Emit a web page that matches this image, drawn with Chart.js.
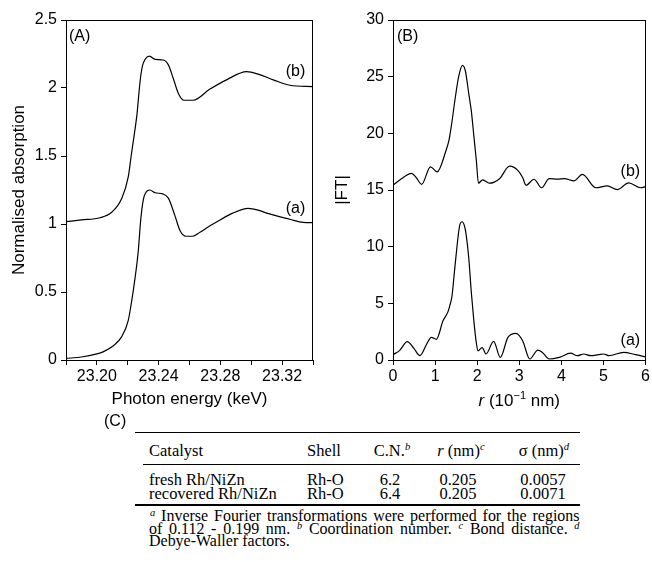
<!DOCTYPE html>
<html><head><meta charset="utf-8">
<script src="https://cdn.jsdelivr.net/npm/chart.js@4.4.1/dist/chart.umd.min.js"></script>
<style>
html,body{margin:0;padding:0;background:#fff;}
#wrap{position:relative;width:652px;height:562px;overflow:hidden;background:#fff;}
#ca{position:absolute;left:0;top:0;}
#cb{position:absolute;left:325px;top:0;}
.t{position:absolute;font-family:"Liberation Serif","Times New Roman",serif;font-size:17px;line-height:16px;white-space:nowrap;color:#000;transform:scaleX(0.97);transform-origin:left center;}
.c{text-align:center;transform-origin:center center;}
.rule{position:absolute;background:#000;}
.sup{font-style:italic;font-size:11px;position:relative;top:-6px;}
.fn{transform:scaleX(0.94);transform-origin:left center;}
.j{text-align:justify;text-align-last:justify;}
#lblC{position:absolute;left:104px;top:413px;font-family:"Liberation Sans",Arial,sans-serif;font-size:16px;line-height:16px;}
</style></head>
<body>
<div id="wrap">
<canvas id="ca" width="325" height="420" style="width:325px;height:420px"></canvas>
<canvas id="cb" width="327" height="420" style="width:327px;height:420px"></canvas>

<div id="lblC">(C)</div>
<div class="rule" style="left:135px;top:432px;width:445px;height:1.3px"></div>
<div class="t" style="left:149px;top:443px">Catalyst</div>
<div class="t" style="left:307px;top:443px">Shell</div>
<div class="t c" style="left:352px;top:443px;width:80px">C.N.<span class="sup">b</span></div>
<div class="t c" style="left:421px;top:443px;width:80px"><i>r</i> (nm)<span class="sup">c</span></div>
<div class="t c" style="left:504px;top:443px;width:80px">σ (nm)<span class="sup">d</span></div>
<div class="rule" style="left:143px;top:463.5px;width:437px;height:1.2px"></div>

<div class="t" style="left:149px;top:471.5px" id="r1c0"></div>
<div class="t" style="left:307px;top:471.5px" id="r1c1"></div>
<div class="t c" style="left:350px;top:471.5px;width:80px" id="r1c2"></div>
<div class="t c" style="left:418px;top:471.5px;width:80px" id="r1c3"></div>
<div class="t c" style="left:503px;top:471.5px;width:80px" id="r1c4"></div>

<div class="t" style="left:149px;top:486px" id="r2c0"></div>
<div class="t" style="left:307px;top:486px" id="r2c1"></div>
<div class="t c" style="left:350px;top:486px;width:80px" id="r2c2"></div>
<div class="t c" style="left:418px;top:486px;width:80px" id="r2c3"></div>
<div class="t c" style="left:503px;top:486px;width:80px" id="r2c4"></div>

<div class="rule" style="left:135px;top:504px;width:445px;height:1.8px"></div>
<div class="t fn j" style="left:150px;top:509px;width:457px;line-height:14px"><span class="sup" style="top:-5px">a</span> Inverse Fourier transformations were performed for the regions</div>
<div class="t fn j" style="left:149px;top:522px;width:458px;line-height:14px">of 0.112 - 0.199 nm. <span class="sup" style="top:-5px">b</span> Coordination number. <span class="sup" style="top:-5px">c</span> Bond distance. <span class="sup" style="top:-5px">d</span></div>
<div class="t fn" style="left:149px;top:534px;line-height:14px">Debye-Waller factors.</div>
</div>

<script>
// ---- Panel A: XANES (photon energy keV vs normalised absorption)
const energyA_a = [23.180,23.190,23.200,23.204,23.2107,23.216,23.2203,23.2225,23.2247,23.2268,23.2284,23.2301,23.2327,23.2344,23.2377,23.243,23.2463,23.2506,23.2539,23.2577,23.262,23.2668,23.273,23.2798,23.288,23.298,23.305,23.310,23.325,23.3337,23.340];
const absA_a    = [0.012,0.022,0.045,0.06,0.105,0.17,0.29,0.43,0.60,0.80,1.03,1.18,1.245,1.25,1.23,1.22,1.19,1.06,0.95,0.91,0.91,0.94,0.985,1.03,1.08,1.115,1.10,1.08,1.035,1.012,1.01];
const energyA_b = [23.180,23.190,23.202,23.2096,23.216,23.2204,23.2222,23.224,23.226,23.228,23.2295,23.2315,23.234,23.2377,23.243,23.2463,23.2495,23.2528,23.2564,23.2624,23.273,23.284,23.297,23.305,23.3143,23.325,23.340];
const absA_b    = [1.017,1.03,1.046,1.086,1.185,1.35,1.50,1.64,1.81,2.05,2.16,2.215,2.235,2.21,2.206,2.17,2.07,1.96,1.91,1.91,1.99,2.06,2.12,2.10,2.06,2.02,2.01];
const ticksA_y  = [0,0.5,1,1.5,2,2.5];
const ticksA_xLabelled = [23.20,23.24,23.28,23.32];

// ---- Panel B: Fourier transform |FT| vs r (10^-1 nm)
const rB_a  = [0.00,0.16,0.34,0.50,0.64,0.80,0.91,1.03,1.19,1.30,1.35,1.40,1.46,1.52,1.58,1.64,1.70,1.74,1.80,1.86,1.92,1.98,2.02,2.12,2.21,2.39,2.55,2.73,2.92,3.08,3.25,3.44,3.55,3.71,3.95,4.22,4.38,4.53,4.70,4.88,5.01,5.13,5.48,5.76,6.00];
const ftB_a = [0.47,0.85,1.62,1.0,0.38,1.4,2.0,1.82,3.48,4.2,4.8,5.6,7.8,10.0,11.8,12.2,11.8,11.0,9.0,6.0,3.5,1.5,0.8,1.1,0.53,1.65,0.23,2.0,2.35,1.7,0.09,0.88,0.67,0.09,0.23,0.6,0.38,0.53,0.38,0.47,0.53,0.38,0.67,0.47,0.28];
const rB_b  = [0.00,0.20,0.44,0.55,0.68,0.89,1.05,1.25,1.33,1.40,1.47,1.56,1.65,1.72,1.80,1.86,1.92,1.98,2.03,2.13,2.29,2.53,2.77,2.96,3.08,3.16,3.35,3.53,3.71,3.91,4.07,4.30,4.50,4.82,5.09,5.33,5.60,5.88,6.00];
const ftB_b = [15.42,16.0,16.46,16.1,15.5,17.04,16.6,18.37,19.4,21.0,22.9,25.0,26.0,25.5,23.5,22.0,19.8,17.6,15.6,15.9,15.6,16.0,17.1,16.75,16.1,15.42,15.95,15.2,16.0,15.96,16.0,15.8,16.37,15.2,15.36,15.04,15.63,15.2,15.3];

// ---- Table (C)
const tableRows = [
  ["fresh Rh/NiZn","Rh-O","6.2","0.205","0.0057"],
  ["recovered Rh/NiZn","Rh-O","6.4","0.205","0.0071"]
];
tableRows.forEach((row,i)=>row.forEach((v,j)=>{document.getElementById('r'+(i+1)+'c'+j).textContent=v;}));

const SANS = '"Liberation Sans", Arial, sans-serif';
const pts = (xs,ys)=>xs.map((x,i)=>({x:x,y:ys[i]}));

const framePlugin = {
  id:'frame',
  afterDatasetsDraw(chart){
    const {ctx, chartArea:a} = chart;
    ctx.save();
    ctx.strokeStyle='#000'; ctx.lineWidth=1;
    ctx.strokeRect(Math.round(a.left)+0.5, Math.round(a.top)+0.5, Math.round(a.right-a.left)-1, Math.round(a.bottom-a.top));
    const o = chart.options.plugins.frame || {};
    ctx.fillStyle='#000';
    ctx.font = '16px '+SANS;
    ctx.textBaseline='middle';
    (o.corner||[]).forEach(c=>{ctx.textAlign='left';ctx.fillText(c.text, a.left+c.dx, a.top+c.dy);});
    (o.labels||[]).forEach(l=>{
      ctx.textAlign='center';
      ctx.fillText(l.text, chart.scales.x.getPixelForValue(l.x), chart.scales.y.getPixelForValue(l.y));
    });
    if (o.rTitle){
      const cx=(a.left+a.right)/2, y=o.rTitle.y;
      const parts=[{t:'r',f:'italic 17px '+SANS,dy:0},{t:' (10',f:'17px '+SANS,dy:0},{t:'\u22121',f:'11px '+SANS,dy:-7},{t:' nm)',f:'17px '+SANS,dy:0}];
      let w=0; parts.forEach(p=>{ctx.font=p.f;p.w=ctx.measureText(p.t).width;w+=p.w;});
      let x=cx-w/2; ctx.textAlign='left'; ctx.textBaseline='alphabetic';
      parts.forEach(p=>{ctx.font=p.f;ctx.fillText(p.t,x,y+p.dy);x+=p.w;});
    }
    ctx.restore();
  }
};

function axisCommon(){
  return {
    grid:{display:true,drawOnChartArea:false,drawTicks:true,tickLength:5,color:'#000',lineWidth:1},
    border:{display:false}
  };
}

function makeChart(id, datasets, cfg){
  return new Chart(document.getElementById(id), {
    type:'line',
    data:{datasets:datasets.map(d=>({data:d,borderColor:'#000',borderWidth:1.2,pointRadius:0,fill:false,cubicInterpolationMode:'monotone'}))},
    plugins:[framePlugin],
    options:{
      responsive:false, animation:false, devicePixelRatio:1,
      layout:{padding:{left:0,right:cfg.padRight,top:20,bottom:0}},
      plugins:{legend:{display:false},tooltip:{enabled:false},frame:cfg.frame},
      scales:{
        x:Object.assign(axisCommon(),{
          type:'linear',min:cfg.xmin,max:cfg.xmax,
          afterFit(s){s.height=60;},
          ticks:{stepSize:cfg.xstep,autoSkip:false,maxRotation:0,padding:2,color:'#000',font:{family:SANS,size:16},callback:cfg.xcb},
          title:{display:!!cfg.xtitle,text:cfg.xtitle||'',color:'#000',font:{family:SANS,size:17},padding:{top:0,bottom:10}}
        }),
        y:Object.assign(axisCommon(),{
          type:'linear',min:cfg.ymin,max:cfg.ymax,
          afterFit(s){s.width=cfg.yw;},
          ticks:{stepSize:cfg.ystep,padding:4,color:'#000',font:{family:SANS,size:16},callback:v=>String(+v.toFixed(2))},
          title:{display:true,text:cfg.ytitle,color:'#000',font:{family:SANS,size:17},padding:{top:cfg.ytpad,bottom:0}}
        })
      }
    }
  });
}

makeChart('ca',[pts(energyA_a,absA_a),pts(energyA_b,absA_b)],{
  xmin:23.18,xmax:23.34,xstep:0.02,ymin:ticksA_y[0],ymax:ticksA_y[ticksA_y.length-1],ystep:0.5,
  xcb:v=>ticksA_xLabelled.some(t=>Math.abs(t-v)<1e-6)?v.toFixed(2):'',
  xtitle:'Photon energy (keV)',ytitle:'Normalised absorption',yw:66,padRight:12,ytpad:9,
  frame:{corner:[{text:'(A)',dx:3,dy:17}],labels:[{text:'(b)',x:23.3287,y:2.12},{text:'(a)',x:23.3287,y:1.115}]}
});
makeChart('cb',[pts(rB_a,ftB_a),pts(rB_b,ftB_b)],{
  xmin:0,xmax:6,xstep:1,ymin:0,ymax:30,ystep:5,
  xcb:v=>String(v),
  xtitle:null,ytitle:'|FT|',yw:68,padRight:5,ytpad:7,
  frame:{corner:[{text:'(B)',dx:4,dy:17}],labels:[{text:'(b)',x:5.64,y:16.6},{text:'(a)',x:5.64,y:1.71}],rTitle:{y:406}}
});
</script>
</body></html>
